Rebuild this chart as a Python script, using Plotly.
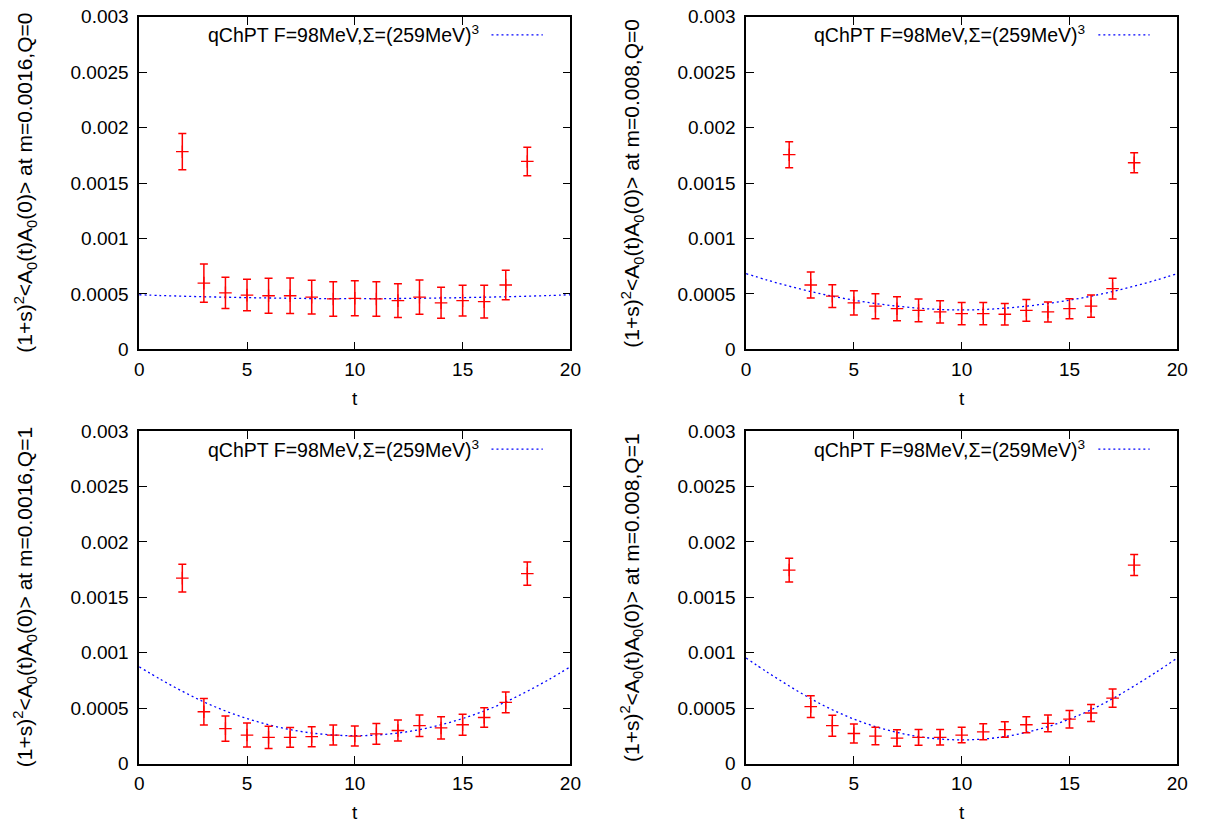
import plotly.graph_objects as go

# ---------------- data ----------------
t_data = [2, 3, 4, 5, 6, 7, 8, 9, 10, 11, 12, 13, 14, 15, 16, 17, 18]

p1_val = [0.001783, 0.000597, 0.000509, 0.000489, 0.000483, 0.000483, 0.000471, 0.000454, 0.000460,
          0.000454, 0.000439, 0.000471, 0.000419, 0.000439, 0.000430, 0.000580, 0.001695]
p1_err = [0.000164, 0.000173, 0.000140, 0.000142, 0.000157, 0.000160, 0.000152, 0.000155, 0.000158,
          0.000155, 0.000152, 0.000154, 0.000140, 0.000139, 0.000148, 0.000133, 0.000129]

p2_val = [0.001756, 0.000580, 0.000480, 0.000419, 0.000389, 0.000366, 0.000351, 0.000337, 0.000322,
          0.000322, 0.000316, 0.000351, 0.000337, 0.000366, 0.000389, 0.000547, 0.001683]
p2_err = [0.000117, 0.000117, 0.000103, 0.000110, 0.000113, 0.000108, 0.000103, 0.000100, 0.000100,
          0.000100, 0.000096, 0.000098, 0.000090, 0.000091, 0.000100, 0.000094, 0.000090]

p3_val = [0.001674, 0.000468, 0.000316, 0.000258, 0.000237, 0.000237, 0.000243, 0.000258, 0.000249,
          0.000269, 0.000299, 0.000342, 0.000322, 0.000351, 0.000416, 0.000553, 0.001715]
p3_err = [0.000126, 0.000120, 0.000114, 0.000109, 0.000100, 0.000090, 0.000090, 0.000090, 0.000090,
          0.000094, 0.000095, 0.000097, 0.000100, 0.000095, 0.000088, 0.000094, 0.000105]

p4_val = [0.001747, 0.000515, 0.000342, 0.000272, 0.000249, 0.000231, 0.000237, 0.000237, 0.000258,
          0.000287, 0.000307, 0.000351, 0.000363, 0.000401, 0.000457, 0.000591, 0.001792]
p4_err = [0.000107, 0.000098, 0.000094, 0.000085, 0.000079, 0.000075, 0.000072, 0.000070, 0.000070,
          0.000072, 0.000070, 0.000072, 0.000076, 0.000079, 0.000076, 0.000082, 0.000095]

t_curve = list(range(0, 21))
c1 = [0.000492, 0.000485, 0.000479, 0.000474, 0.000470, 0.000466, 0.000463, 0.000460, 0.000458, 0.000457,
      0.000457, 0.000457, 0.000458, 0.000460, 0.000463, 0.000466, 0.000470, 0.000474, 0.000479, 0.000485,
      0.000492]
c2 = [0.000683, 0.000623, 0.000569, 0.000521, 0.000479, 0.000443, 0.000413, 0.000389, 0.000371, 0.000359,
      0.000355, 0.000359, 0.000371, 0.000389, 0.000413, 0.000443, 0.000479, 0.000521, 0.000569, 0.000623,
      0.000683]
c3 = [0.000874, 0.000759, 0.000653, 0.000557, 0.000475, 0.000407, 0.000351, 0.000307, 0.000276, 0.000258,
      0.000252, 0.000258, 0.000276, 0.000307, 0.000351, 0.000407, 0.000475, 0.000557, 0.000653, 0.000759,
      0.000874]
c4 = [0.000953, 0.000823, 0.000701, 0.000586, 0.000486, 0.000402, 0.000334, 0.000282, 0.000244, 0.000222,
      0.000214, 0.000222, 0.000244, 0.000282, 0.000334, 0.000402, 0.000486, 0.000586, 0.000701, 0.000823,
      0.000953]

x_ticks = [0, 5, 10, 15, 20]
y_ticks = [0, 0.0005, 0.001, 0.0015, 0.002, 0.0025, 0.003]
y_tick_labels = ["0", "0.0005", "0.001", "0.0015", "0.002", "0.0025", "0.003"]

ylabels = [
    "(1+s)<sup>2</sup>&lt;A<sub>0</sub>(t)A<sub>0</sub>(0)&gt; at m=0.0016,Q=0",
    "(1+s)<sup>2</sup>&lt;A<sub>0</sub>(t)A<sub>0</sub>(0)&gt; at m=0.008,Q=0",
    "(1+s)<sup>2</sup>&lt;A<sub>0</sub>(t)A<sub>0</sub>(0)&gt; at m=0.0016,Q=1",
    "(1+s)<sup>2</sup>&lt;A<sub>0</sub>(t)A<sub>0</sub>(0)&gt; at m=0.008,Q=1",
]
legend_text = "qChPT F=98MeV,Σ=(259MeV)<sup>3</sup>"

# ---------------- figure ----------------
W, H = 1210, 838
FONT = "Liberation Sans"
FS = 19

# panel pixel boxes (left, right, top, bottom)
boxes = [(136, 573, 7, 348), (751, 1188, 7, 348), (136, 573, 432, 773), (751, 1188, 432, 773)]
vals = [p1_val, p2_val, p3_val, p4_val]
errs = [p1_err, p2_err, p3_err, p4_err]
curves = [c1, c2, c3, c4]

fig = go.Figure()
annotations = []
shapes = []
for i in range(4):
    xa = "x" if i == 0 else f"x{i+1}"
    ya = "y" if i == 0 else f"y{i+1}"
    l, r, tp, b = boxes[i]
    dom_x = [l / W, r / W]
    dom_y = [1 - b / H, 1 - tp / H]
    axcommon = dict(showgrid=False, zeroline=False, showline=True, linecolor="black", linewidth=1.5,
                    mirror="ticks", ticks="inside", ticklen=8, tickwidth=1, tickcolor="black",
                    tickfont=dict(family=FONT, size=FS, color="black"))
    fig.update_layout(**{
        ("xaxis" if i == 0 else f"xaxis{i+1}"): dict(domain=dom_x, anchor=ya, range=[0, 20],
                                                      tickvals=x_ticks, ticklabelstandoff=2, **axcommon),
        ("yaxis" if i == 0 else f"yaxis{i+1}"): dict(domain=dom_y, anchor=xa, range=[0, 0.003],
                                                      tickvals=y_ticks, ticktext=y_tick_labels,
                                                      ticklabelstandoff=5, **axcommon),
    })
    fig.add_trace(go.Scatter(x=t_curve, y=curves[i], mode="lines", xaxis=xa, yaxis=ya,
                             line=dict(color="#0000ff", width=1.3, dash="2px,3px", shape="spline", smoothing=1.0),
                             showlegend=False, hoverinfo="skip"))
    fig.add_trace(go.Scatter(x=t_data, y=vals[i], mode="markers", xaxis=xa, yaxis=ya,
                             marker=dict(symbol="cross-thin", size=9, line=dict(color="#ff0000", width=1.3),
                                         color="#ff0000"),
                             error_y=dict(type="data", array=errs[i], visible=True, color="#ff0000",
                                          thickness=1.5, width=4),
                             showlegend=False))
    xd = xa + " domain"
    yd = ya + " domain"
    pw = r - l
    ph = b - tp
    # y-axis title
    annotations.append(dict(text=ylabels[i], xref=xd, yref=yd, x=-116 / pw, y=0.5, textangle=-90,
                            showarrow=False, xanchor="center", yanchor="middle",
                            font=dict(family=FONT, size=21, color="black")))
    # x-axis title
    annotations.append(dict(text="t", xref=xd, yref=yd, x=0.5, y=-50 / ph, showarrow=False,
                            xanchor="center", yanchor="middle", font=dict(family=FONT, size=FS, color="black")))
    # key text
    annotations.append(dict(text=legend_text, xref=xd, yref=yd, x=346 / pw, y=1 - 18 / ph,
                            showarrow=False, xanchor="right", yanchor="middle",
                            font=dict(family=FONT, size=19.5, color="black")))
    shapes.append(dict(type="line", xref=xd, yref=yd, x0=357 / pw, x1=409 / pw,
                       y0=1 - 18.5 / ph, y1=1 - 18.5 / ph,
                       line=dict(color="#0000ff", width=1.3, dash="2px,3px")))

fig.update_layout(width=W, height=H, margin=dict(l=0, r=0, t=0, b=0), paper_bgcolor="white",
                  plot_bgcolor="white", annotations=annotations, shapes=shapes, showlegend=False,
                  font=dict(family=FONT, size=FS, color="black"))

fig.write_html("out.html")
